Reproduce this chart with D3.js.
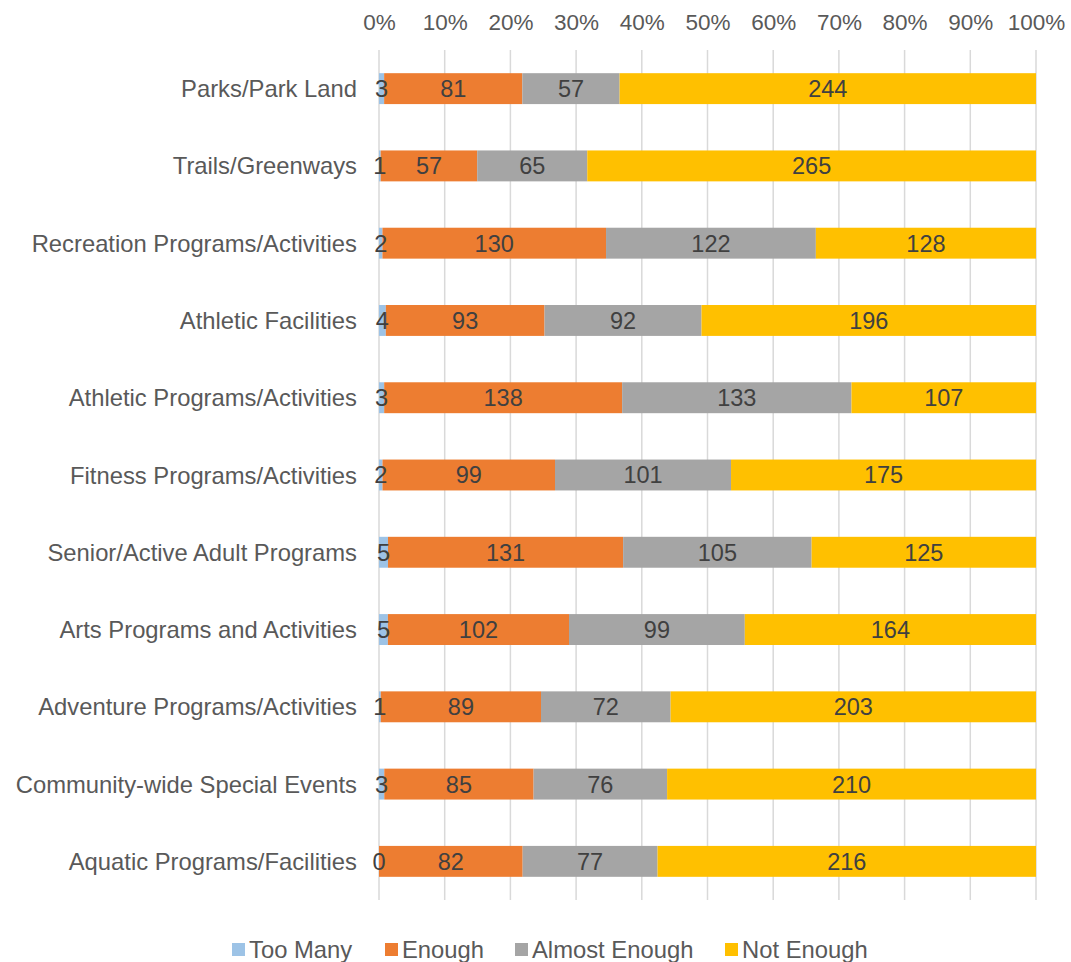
<!DOCTYPE html>
<html>
<head>
<meta charset="utf-8">
<script src="https://cdn.jsdelivr.net/npm/d3@7"></script>
<style>
  body { margin: 0; background: #fff; }
  text { font-family: "Liberation Sans", Arial, sans-serif; }
</style>
</head>
<body>
<div id="chart"></div>
<script>
(function() {
  const categories = [
    'Parks/Park Land',
    'Trails/Greenways',
    'Recreation Programs/Activities',
    'Athletic Facilities',
    'Athletic Programs/Activities',
    'Fitness Programs/Activities',
    'Senior/Active Adult Programs',
    'Arts Programs and Activities',
    'Adventure Programs/Activities',
    'Community-wide Special Events',
    'Aquatic Programs/Facilities'
  ];
  const seriesNames = ['Too Many', 'Enough', 'Almost Enough', 'Not Enough'];
  const seriesColors = ['#9DC3E6', '#ED7D31', '#A5A5A5', '#FFC000'];

  const tooMany = [3, 1, 2, 4, 3, 2, 5, 5, 1, 3, 0];
  const enough = [81, 57, 130, 93, 138, 99, 131, 102, 89, 85, 82];
  const almostEnough = [57, 65, 122, 92, 133, 101, 105, 99, 72, 76, 77];
  const notEnough = [244, 265, 128, 196, 107, 175, 125, 164, 203, 210, 216];

  const tickValues = [0, 0.1, 0.2, 0.3, 0.4, 0.5, 0.6, 0.7, 0.8, 0.9, 1];

  const width = 1071, height = 962;
  const svg = d3.select('#chart').append('svg')
    .attr('width', width)
    .attr('height', height);

  const x = d3.scaleLinear().domain([0, 1]).range([379, 1036]);
  const y = d3.scaleBand().domain(categories).range([50, 900]).paddingInner(0.6).paddingOuter(0.3);

  // gridlines
  svg.append('g').selectAll('line')
    .data(tickValues)
    .enter().append('line')
    .attr('x1', d => x(d)).attr('x2', d => x(d))
    .attr('y1', 50).attr('y2', 900)
    .attr('stroke', '#d9d9d9')
    .attr('stroke-width', 1.5);

  // top axis labels
  const xAxis = d3.axisTop(x).tickValues(tickValues).tickFormat(d3.format('.0%')).tickSize(0).tickPadding(0);
  const axisG = svg.append('g')
    .attr('transform', 'translate(0,30)')
    .call(xAxis);
  axisG.select('.domain').remove();
  axisG.selectAll('text')
    .attr('font-family', '"Liberation Sans", Arial, sans-serif')
    .attr('font-size', 22.5)
    .attr('fill', '#595959');

  // stacked data
  const rows = categories.map((c, i) => {
    const vals = [tooMany[i], enough[i], almostEnough[i], notEnough[i]];
    const total = d3.sum(vals);
    let acc = 0;
    return vals.map((v, k) => {
      const seg = { cat: c, key: k, value: v, x0: acc / total, x1: (acc + v) / total };
      acc += v;
      return seg;
    });
  });
  const segs = rows.flat();

  svg.append('g').selectAll('rect')
    .data(segs)
    .enter().append('rect')
    .attr('x', d => x(d.x0))
    .attr('width', d => x(d.x1) - x(d.x0))
    .attr('y', d => y(d.cat))
    .attr('height', y.bandwidth())
    .attr('fill', d => seriesColors[d.key]);

  // data labels
  svg.append('g').selectAll('text')
    .data(segs)
    .enter().append('text')
    .attr('x', d => (x(d.x0) + x(d.x1)) / 2)
    .attr('y', d => y(d.cat) + y.bandwidth() / 2)
    .attr('dy', '0.36em')
    .attr('text-anchor', 'middle')
    .attr('font-size', 23.5)
    .attr('fill', '#404040')
    .text(d => d.value);

  // category labels
  svg.append('g').selectAll('text')
    .data(categories)
    .enter().append('text')
    .attr('x', 357)
    .attr('y', d => y(d) + y.bandwidth() / 2)
    .attr('dy', '0.36em')
    .attr('text-anchor', 'end')
    .attr('font-size', 23.8)
    .attr('fill', '#595959')
    .text(d => d);

  // legend
  const legendX = [232, 385, 515, 725];
  const legend = svg.append('g').selectAll('g')
    .data(seriesNames)
    .enter().append('g')
    .attr('transform', (d, i) => `translate(${legendX[i]},958)`);
  legend.append('rect')
    .attr('x', 0).attr('y', -15)
    .attr('width', 13).attr('height', 13)
    .attr('fill', (d, i) => seriesColors[i]);
  legend.append('text')
    .attr('x', 17)
    .attr('y', 0)
    .attr('font-size', 23.8)
    .attr('fill', '#595959')
    .text(d => d);
})();
</script>
</body>
</html>
